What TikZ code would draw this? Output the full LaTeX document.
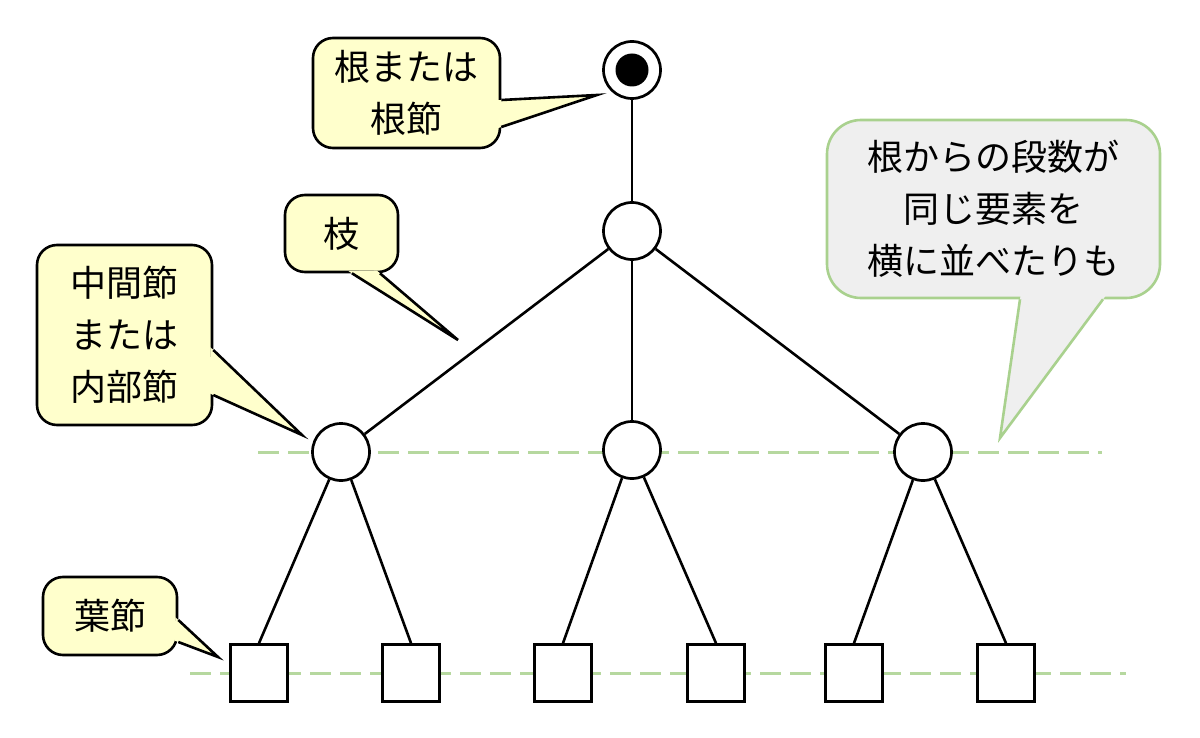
\documentclass[tikz,border=0pt]{standalone}
\usepackage{fontspec}
\setmainfont{Noto Sans CJK JP}
\usepackage{tikz}
\usetikzlibrary{positioning,calc}
\definecolor{noteYellow}{HTML}{FFFFCC}
\definecolor{noteGray}{HTML}{EFEFEF}
\definecolor{levelGreen}{HTML}{A9D18E}

\begin{document}
\begin{tikzpicture}[
    x=1pt, y=-1pt,
    font=\fontsize{36}{52}\selectfont,
    vertex/.style={draw, circle, fill=white, line width=2.7pt, minimum size=57pt, inner sep=0pt},
    rootdot/.style={fill=black, circle, minimum size=33pt, inner sep=0pt},
    leafbox/.style={draw, rectangle, fill=white, line width=2.7pt, minimum size=57pt, inner sep=0pt},
    edge/.style={line width=2.6pt},
    level/.style={levelGreen!85!white, line width=3pt, dash pattern=on 21pt off 9pt},
    note/.style={draw, rectangle, rounded corners=20pt, fill=noteYellow, line width=2.6pt, align=center, inner sep=0pt},
    bignote/.style={note, fill=noteGray, draw=levelGreen, rounded corners=34pt},
    tail/.style={line width=2.6pt, line join=miter}
]
    \useasboundingbox (0,0) rectangle (1200,738);

    % level guides
    \coordinate (lvlAw) at (258,452);
    \coordinate (lvlAe) at (1102,452);
    \coordinate (lvlBw) at (190,673);
    \coordinate (lvlBe) at (1126,673);
    \draw[level] (lvlAw) -- (lvlAe);
    \draw[level] (lvlBw) -- (lvlBe);

    % tree
    \node[vertex] (root) at (632,70) {};
    \node[rootdot] (rootin) at (root) {};
    \node[vertex] (hub) at (632,231) {};
    \node[vertex] (inl) at (341,452) {};
    \node[vertex] (inc) at (632,450) {};
    \node[vertex] (inr) at (923,452) {};
    \node[leafbox] (leaf1) at (259,673) {};
    \node[leafbox] (leaf2) at (411,673) {};
    \node[leafbox] (leaf3) at (563,673) {};
    \node[leafbox] (leaf4) at (716,673) {};
    \node[leafbox] (leaf5) at (854,673) {};
    \node[leafbox] (leaf6) at (1006,673) {};

    \draw[edge] (root) -- (hub);
    \draw[edge] (hub) -- (inl);
    \draw[edge] (hub) -- (inc);
    \draw[edge] (hub) -- (inr);
    \draw[edge] (inl) -- (leaf1.north);
    \draw[edge] (inl) -- (leaf2.north);
    \draw[edge] (inc) -- (leaf3.north);
    \draw[edge] (inc) -- (leaf4.north);
    \draw[edge] (inr) -- (leaf5.north);
    \draw[edge] (inr) -- (leaf6.north);

    % callouts
    \node[note, minimum width=187pt, minimum height=110pt] (rootnote) at (406.5,93) {根または\\根節};
    \coordinate (roottip) at (597,95);
    \coordinate (rootbaseA) at ([yshift=-7pt]rootnote.east);
    \coordinate (rootbaseB) at ([yshift=-34pt]rootnote.east);
    \fill[noteYellow] ($(rootbaseA)!-4pt!(roottip)$) -- (roottip) -- ($(rootbaseB)!-4pt!(roottip)$) -- cycle;
    \draw[tail] (rootbaseA) -- (roottip) -- (rootbaseB);

    \node[note, minimum width=113pt, minimum height=77pt] (branchnote) at (341.5,233.5) {枝};
    \coordinate (branchtip) at (458,340);
    \coordinate (branchbaseA) at ([xshift=10.5pt]branchnote.south);
    \coordinate (branchbaseB) at ([xshift=38.5pt]branchnote.south);
    \fill[noteYellow] ($(branchbaseA)!-4pt!(branchtip)$) -- (branchtip) -- ($(branchbaseB)!-4pt!(branchtip)$) -- cycle;
    \draw[tail] (branchbaseA) -- (branchtip) -- (branchbaseB);

    \node[note, minimum width=175pt, minimum height=180pt] (innernote) at (124.5,335) {中間節\\または\\内部節};
    \coordinate (innertip) at (302,435);
    \coordinate (innerbaseA) at ([yshift=-15pt]innernote.east);
    \coordinate (innerbaseB) at ([yshift=-60pt]innernote.east);
    \fill[noteYellow] ($(innerbaseA)!-4pt!(innertip)$) -- (innertip) -- ($(innerbaseB)!-4pt!(innertip)$) -- cycle;
    \draw[tail] (innerbaseA) -- (innertip) -- (innerbaseB);

    \node[note, minimum width=134pt, minimum height=78pt] (leafnote) at (110,616) {葉節};
    \coordinate (leaftip) at (218,657);
    \coordinate (leafbaseA) at ([yshift=-4pt]leafnote.east);
    \coordinate (leafbaseB) at ([yshift=-26pt]leafnote.east);
    \fill[noteYellow] ($(leafbaseA)!-4pt!(leaftip)$) -- (leaftip) -- ($(leafbaseB)!-4pt!(leaftip)$) -- cycle;
    \draw[tail] (leafbaseA) -- (leaftip) -- (leafbaseB);

    \node[bignote, minimum width=333pt, minimum height=178pt] (levelnote) at (993.5,209) {根からの段数が\\同じ要素を\\横に並べたりも};
    \coordinate (leveltip) at (1000,438);
    \coordinate (levelbaseA) at ([xshift=26.5pt]levelnote.south);
    \coordinate (levelbaseB) at ([xshift=109.5pt]levelnote.south);
    \fill[noteGray] ($(levelbaseA)!-4pt!(leveltip)$) -- (leveltip) -- ($(levelbaseB)!-4pt!(leveltip)$) -- cycle;
    \draw[tail, levelGreen] (levelbaseA) -- (leveltip) -- (levelbaseB);
\end{tikzpicture}
\end{document}
